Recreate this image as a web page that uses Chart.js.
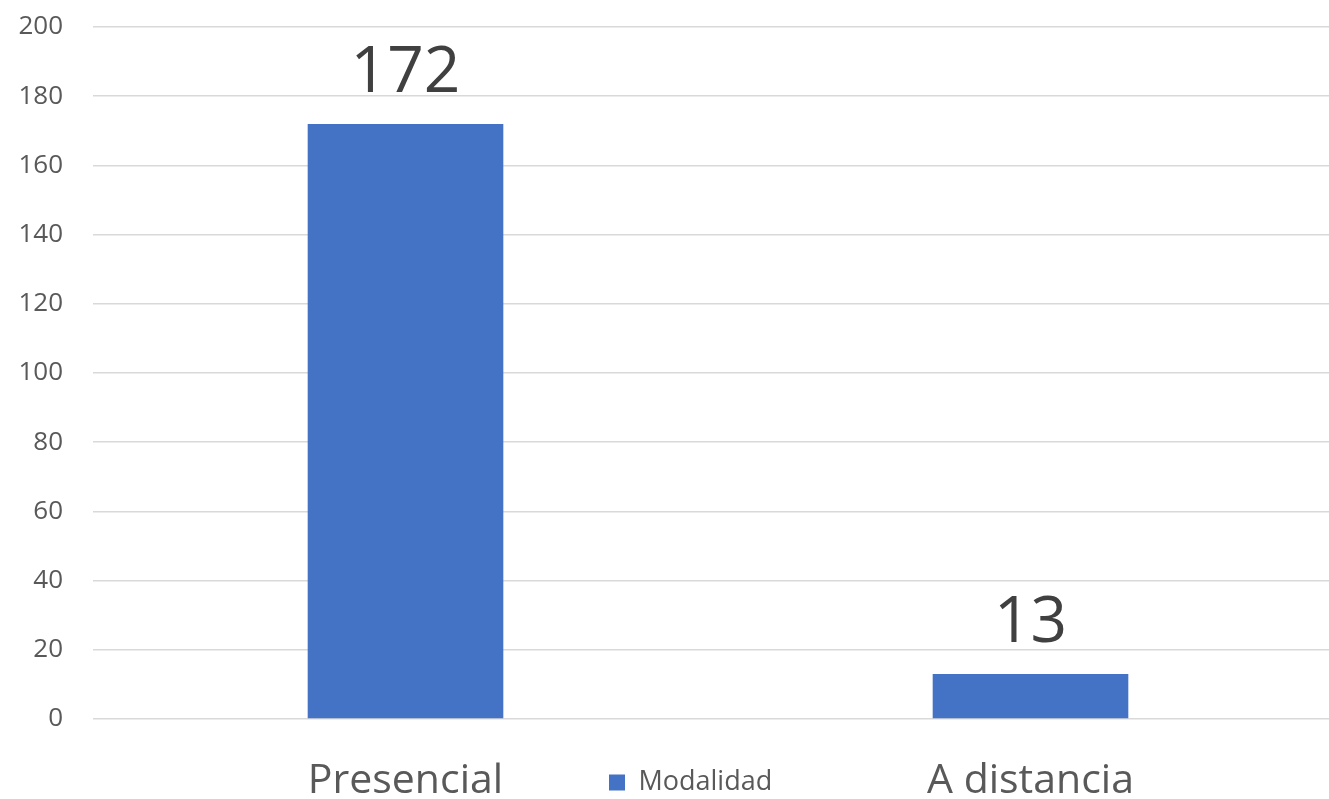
<!DOCTYPE html>
<html>
<head>
<meta charset="utf-8">
<script src="https://cdn.jsdelivr.net/npm/chart.js@4/dist/chart.umd.min.js"></script>
<style>
  html, body { margin: 0; padding: 0; background: #fff; overflow: hidden; }
  #wrap { width: 1343px; height: 799px; }
</style>
</head>
<body>
<div id="wrap"><canvas id="modalidad-chart" width="1343" height="799"></canvas></div>
<script>
// data
var categories = ["Presencial", "A distancia"];
var seriesName = "Modalidad";
var seriesValues = [172, 13];
var yMin = 0, yMax = 200, yStep = 20;

var fontFamily = "'Open Sans', 'Noto Sans', sans-serif";

// writes the value above each bar
var valueLabels = {
    id: "valueLabels",
    afterDatasetsDraw: function(chart) {
        var ctx = chart.ctx;
        var meta = chart.getDatasetMeta(0);
        ctx.save();
        ctx.font = "64px " + fontFamily;
        ctx.fillStyle = "#404040";
        ctx.textAlign = "center";
        ctx.textBaseline = "alphabetic";
        meta.data.forEach(function(bar, i) {
            ctx.fillText(String(chart.data.datasets[0].data[i]), bar.x, bar.y - 32);
        });
        ctx.restore();
    }
};

// puts the legend on the row of the category labels, between them
var legendOnAxisRow = {
    id: "legendOnAxisRow",
    afterLayout: function(chart) {
        var lg = chart.legend;
        if (!lg) return;
        var w = lg.width, h = lg.height;
        lg.left = 599;
        lg.right = lg.left + w;
        lg.top = 759;
        lg.bottom = lg.top + h;
    }
};

var ctx = document.getElementById("modalidad-chart").getContext("2d");
var chart = new Chart(ctx, {
    type: "bar",
    data: {
        labels: categories,
        datasets: [{
            label: seriesName,
            data: seriesValues,
            backgroundColor: "#4472C4",
            borderWidth: 0,
            categoryPercentage: 1,
            barPercentage: 0.313
        }]
    },
    plugins: [valueLabels, legendOnAxisRow],
    options: {
        responsive: false,
        animation: false,
        layout: { padding: { top: 27, left: 0, right: 0, bottom: 0 } },
        plugins: {
            tooltip: { enabled: false },
            legend: {
                display: true,
                position: "chartArea",
                align: "start",
                labels: {
                    boxWidth: 16,
                    boxHeight: 16,
                    color: "#595959",
                    font: { family: fontFamily, size: 27 }
                }
            }
        },
        scales: {
            x: {
                grid: { display: false, drawTicks: false },
                border: { display: false },
                ticks: {
                    color: "#595959",
                    padding: 38,
                    maxRotation: 0,
                    font: { family: fontFamily, size: 41 }
                },
                afterFit: function(scale) {
                    scale.height = 80;
                    scale.paddingLeft = 0;
                    scale.paddingRight = 0;
                }
            },
            y: {
                min: yMin,
                max: yMax,
                grid: { color: "#D9D9D9", lineWidth: 1.5, drawTicks: false },
                border: { display: false },
                ticks: {
                    stepSize: yStep,
                    color: "#595959",
                    padding: 30,
                    font: { family: fontFamily, size: 26 }
                },
                afterFit: function(scale) {
                    scale.width = 93;
                    scale.paddingTop = 0;
                    scale.paddingBottom = 0;
                }
            }
        }
    }
});
</script>
</body>
</html>
